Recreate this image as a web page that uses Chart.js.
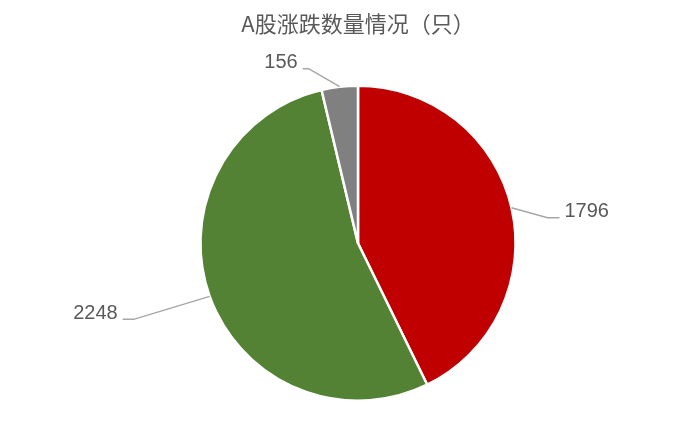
<!DOCTYPE html>
<html>
<head>
<meta charset="utf-8">
<script src="https://cdn.jsdelivr.net/npm/chart.js@4/dist/chart.umd.min.js"></script>
<style>
  html, body { margin: 0; padding: 0; background: #fff; }
  #wrap { width: 693px; height: 424px; }
</style>
</head>
<body>
<div id="wrap"><canvas id="pie"></canvas></div>
<script>
var categories = ['上涨', '下跌', '平盘'];
var counts = [1796, 2248, 156];
var colors = ['#C00000', '#548235', '#808080'];

// leader line offsets from the slice edge: elbow dx/dy, end dx, text side
var leaders = [
  { dx: 36, dy: 10, len: 12, side: 1 },
  { dx: -76, dy: 23, len: 11, side: -1 },
  { dx: -31, dy: -18, len: 6, side: -1 }
];

var leaderLabels = {
  id: 'leaderLabels',
  afterDatasetsDraw: function(chart) {
    var ctx = chart.ctx;
    var arcs = chart.getDatasetMeta(0).data;
    ctx.save();
    for (var i = 0; i < arcs.length; i++) {
      var p = arcs[i].getProps(['x', 'y', 'startAngle', 'endAngle', 'outerRadius'], true);
      var mid = (p.startAngle + p.endAngle) / 2;
      var ex = p.x + Math.cos(mid) * p.outerRadius;
      var ey = p.y + Math.sin(mid) * p.outerRadius;
      var l = leaders[i];
      var bx = ex + l.dx, by = ey + l.dy;
      var endX = bx + l.side * l.len;
      ctx.strokeStyle = '#A6A6A6';
      ctx.lineWidth = 1.5;
      ctx.beginPath();
      ctx.moveTo(ex, ey);
      ctx.lineTo(bx, by);
      ctx.lineTo(endX, by);
      ctx.stroke();
      ctx.fillStyle = '#595959';
      ctx.font = '20px "Liberation Sans", Arial, sans-serif';
      ctx.textBaseline = 'middle';
      ctx.textAlign = l.side > 0 ? 'left' : 'right';
      ctx.fillText(String(counts[i]), endX + l.side * 5, by - 6);
    }
    ctx.restore();
  }
};

new Chart(document.getElementById('pie'), {
  type: 'pie',
  data: {
    labels: categories,
    datasets: [{
      data: counts,
      backgroundColor: colors,
      borderColor: '#FFFFFF',
      borderWidth: 2.5,
      hoverOffset: 0
    }]
  },
  options: {
    responsive: true,
    maintainAspectRatio: false,
    animation: false,
    layout: { padding: { left: 23, right: 0, top: 0, bottom: 22 } },
    plugins: {
      legend: { display: false },
      tooltip: { enabled: false },
      title: {
        display: true,
        text: 'A股涨跌数量情况（只）',
        color: '#595959',
        font: { family: '"Noto Sans CJK SC", sans-serif', size: 22, weight: 'normal', lineHeight: 1.2 },
        padding: { top: 10, bottom: 48 }
      }
    }
  },
  plugins: [leaderLabels]
});
</script>
</body>
</html>
